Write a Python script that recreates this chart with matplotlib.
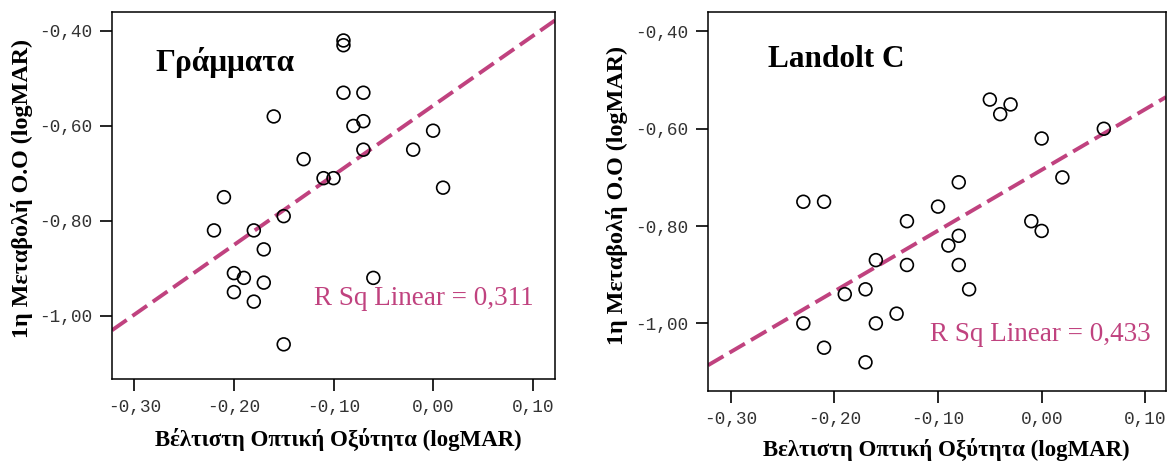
import numpy as np
import matplotlib
matplotlib.use("Agg")
import matplotlib.pyplot as plt

# ---------------- data ----------------
letters_x = [-0.09, -0.09, -0.09, -0.07, -0.16, -0.07, -0.08, 0.00, -0.07, -0.02,
             -0.13, -0.11, -0.10, 0.01, -0.21, -0.15, -0.22, -0.18, -0.17, -0.20,
             -0.19, -0.17, -0.06, -0.20, -0.18, -0.15]
letters_y = [-0.42, -0.43, -0.53, -0.53, -0.58, -0.59, -0.60, -0.61, -0.65, -0.65,
             -0.67, -0.71, -0.71, -0.73, -0.75, -0.79, -0.82, -0.82, -0.86, -0.91,
             -0.92, -0.93, -0.92, -0.95, -0.97, -1.06]
letters_r2 = 0.311

landolt_x = [-0.05, -0.03, -0.04, 0.06, 0.00, 0.02, -0.08, -0.23, -0.21, -0.10,
             -0.13, -0.01, 0.00, -0.08, -0.09, -0.16, -0.13, -0.08, -0.19, -0.17,
             -0.07, -0.14, -0.23, -0.16, -0.21, -0.17]
landolt_y = [-0.54, -0.55, -0.57, -0.60, -0.62, -0.70, -0.71, -0.75, -0.75, -0.76,
             -0.79, -0.79, -0.81, -0.82, -0.84, -0.87, -0.88, -0.88, -0.94, -0.93,
             -0.93, -0.98, -1.00, -1.00, -1.05, -1.08]
landolt_r2 = 0.433

titles = ["Γράμματα", "Landolt C"]
xlabels = ["Βέλτιστη Οπτική Οξύτητα (logMAR)", "Βελτιστη Οπτική Οξύτητα (logMAR)"]
ylabel = "1η Μεταβολή Ο.Ο (logMAR)"
xticks = [-0.30, -0.20, -0.10, 0.00, 0.10]
yticks = [-1.00, -0.80, -0.60, -0.40]

LINE_COLOR = "#c0427f"
W, H = 1167, 463

fig = plt.figure(figsize=(W / 100, H / 100), dpi=100)

def frac_box(l, t, r, b):
    return [l / W, 1 - b / H, (r - l) / W, (b - t) / H]

panels = [
    dict(box=frac_box(112, 12, 555, 379), x=letters_x, y=letters_y, r2=letters_r2,
         title=titles[0], xlabel=xlabels[0], xlim=(-0.3224, 0.1224), ylim=(-1.133, -0.36),
         title_pos=(-0.279, -0.484), r2_pos=(-0.120, -0.977),
         ylab=(-0.203, 0.52), xlab=(0.51, -0.166)),
    dict(box=frac_box(708, 12, 1166, 391), x=landolt_x, y=landolt_y, r2=landolt_r2,
         title=titles[1], xlabel=xlabels[1], xlim=(-0.322, 0.120), ylim=(-1.139, -0.36),
         title_pos=(-0.264, -0.473), r2_pos=(-0.108, -1.036),
         ylab=(-0.199, 0.517), xlab=(0.52, -0.155)),
]

serif = ["Liberation Serif", "DejaVu Serif"]
mono = ["Liberation Mono", "DejaVu Sans Mono"]

def fmt(v):
    return f"{v:.2f}".replace(".", ",")

for p in panels:
    ax = fig.add_axes(p["box"])
    x = np.array(p["x"]); y = np.array(p["y"])
    ax.scatter(x, y, s=85, facecolors="none", edgecolors="black", linewidths=1.2, zorder=3)
    k, b0 = np.polyfit(x, y, 1)
    xs = np.array(p["xlim"])
    ln, = ax.plot(xs, k * xs + b0, color=LINE_COLOR, lw=2.8, zorder=2, solid_capstyle="butt")
    ln.set_dashes((4.6, 1.8))
    ax.set_xlim(*p["xlim"]); ax.set_ylim(*p["ylim"])
    ax.set_xticks(xticks); ax.set_yticks(yticks)
    ax.set_xticklabels([fmt(v) for v in xticks], family=mono, fontsize=12.8, color="#333333")
    ax.set_yticklabels([fmt(v) for v in yticks], family=mono, fontsize=12.8, color="#333333")
    ax.tick_params(direction="out", length=8.5, width=1.2, pad=6, color="black")
    for s in ax.spines.values():
        s.set_linewidth(1.1)
    ax.text(*p["title_pos"], p["title"], family=serif, fontweight="bold", fontsize=22.5,
            va="baseline", ha="left")
    ax.text(*p["r2_pos"], f"R Sq Linear = {p['r2']:.3f}".replace(".", ","), family=serif,
            fontsize=19.5, color=LINE_COLOR, va="baseline", ha="left")
    ax.set_xlabel(p["xlabel"], family=serif, fontweight="bold", fontsize=16.5, va="center")
    ax.set_ylabel(ylabel, family=serif, fontweight="bold", fontsize=17.4, va="center")
    ax.xaxis.set_label_coords(*p["xlab"])
    ax.yaxis.set_label_coords(*p["ylab"])

fig.savefig("out.png", dpi=100)
